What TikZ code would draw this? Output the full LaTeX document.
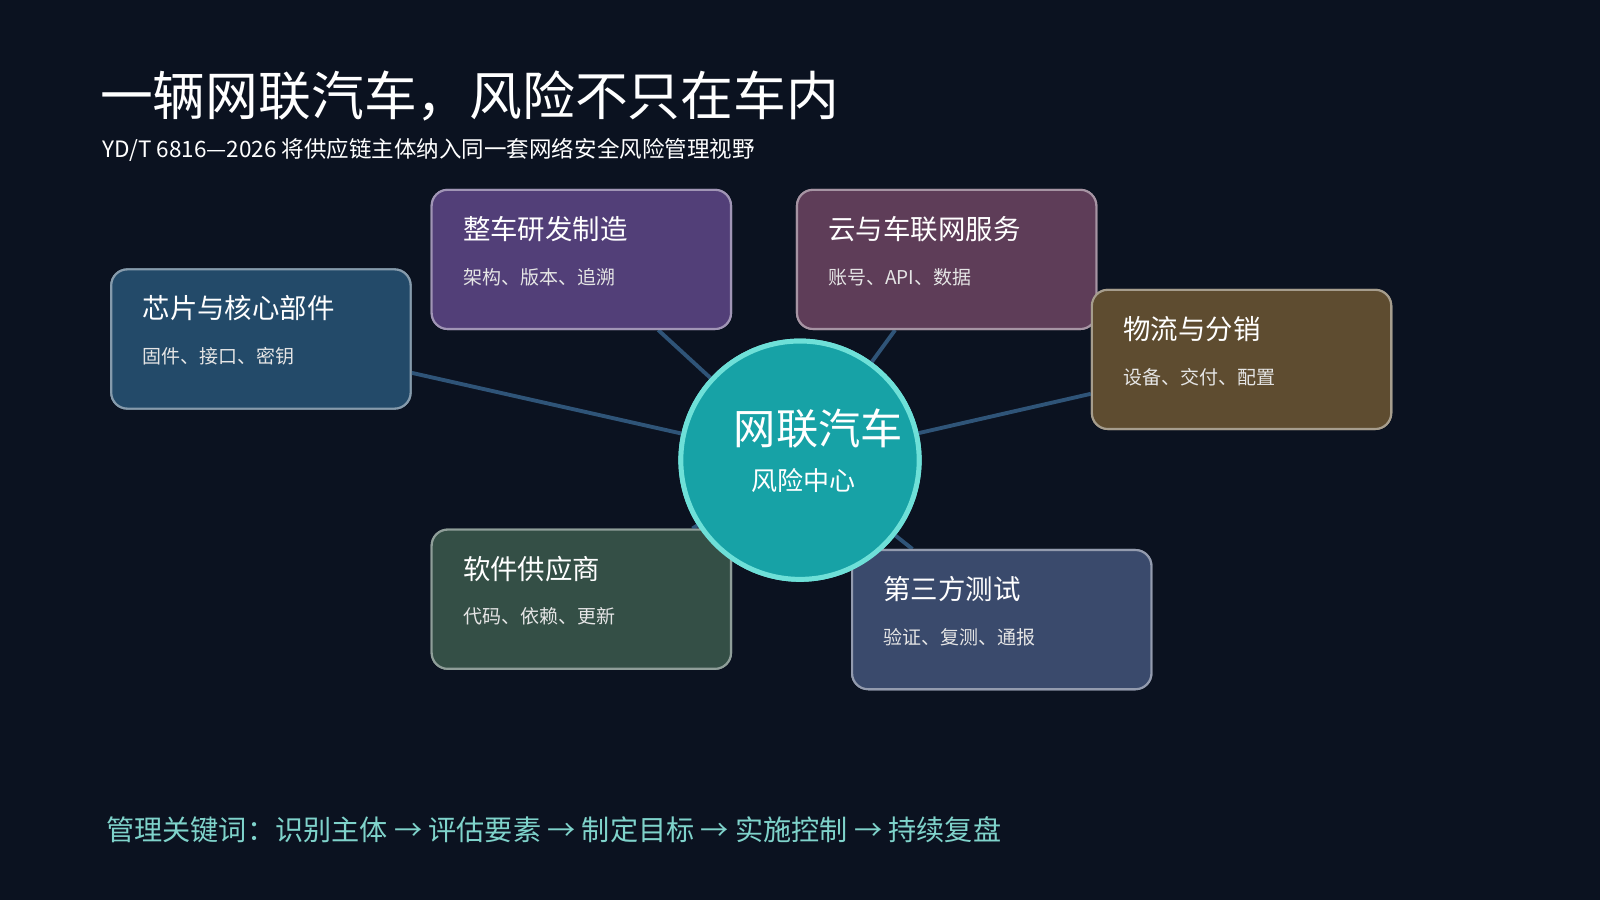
\documentclass[tikz,border=0pt]{standalone}
\usepackage{fontspec}
\setmainfont{Noto Sans CJK SC}
\usetikzlibrary{positioning}
\definecolor{bgcol}{HTML}{0B1220}
\definecolor{linkcol}{HTML}{2F5478}
\definecolor{hubcol}{HTML}{17A2A6}
\definecolor{hubedge}{HTML}{6EE0D8}
\definecolor{footcol}{HTML}{7FD3CB}
\definecolor{chipcol}{HTML}{234A69}
\definecolor{oemcol}{HTML}{523F78}
\definecolor{cloudcol}{HTML}{5E3D58}
\definecolor{logicol}{HTML}{5E4C30}
\definecolor{softcol}{HTML}{344F46}
\definecolor{testcol}{HTML}{3A4A6C}
\tikzset{
  party/.style={draw=#1!55!white, fill=#1, rounded corners=0.16cm, line width=0.6pt,
    minimum width=2.99cm, minimum height=1.39cm, anchor=north west},
  ptitle/.style={anchor=west, text=white, font=\fontsize{7.8pt}{9pt}\selectfont},
  psub/.style={anchor=west, text=white!80!gray, font=\fontsize{5.4pt}{6pt}\selectfont},
  link/.style={linkcol, line width=1.1pt}
}
\begin{document}
\begin{tikzpicture}[x=0.0102cm, y=-0.0102cm]
  \fill[bgcol] (0,0) rectangle (1568,882);
  \useasboundingbox (0,0) rectangle (1568,882);
  % title
  \node[anchor=west, text=white, font=\fontsize{15pt}{17pt}\selectfont] (title) at (86,94) {一辆网联汽车，风险不只在车内};
  \node[anchor=west, text=white, font=\fontsize{6.4pt}{8pt}\selectfont] (subtitle) at (88,147) {YD/T 6816—2026 将供应链主体纳入同一套网络安全风险管理视野};
  % hub
  \node[circle, fill=hubcol, draw=hubedge, line width=1.4pt, minimum size=2.38cm] (hub) at (784,451) {};
  % parties
  \node[party=chipcol] (chip) at (108,263) {};
  \node[party=oemcol] (oem) at (422,185) {};
  \node[party=cloudcol] (cloud) at (780,185) {};
  \node[party=logicol] (logi) at (1069,283) {};
  \node[party=softcol] (soft) at (422,518) {};
  \node[party=testcol] (test) at (834,538) {};
  % links
  \begin{scope}[on background layer/.style={}]
  \end{scope}
  \foreach \p in {chip,oem,cloud,logi,soft,test}
    \draw[link] (hub) -- (\p);
  % redraw on top
  \node[party=chipcol] at (108,263) {};
  \node[party=oemcol] at (422,185) {};
  \node[party=cloudcol] at (780,185) {};
  \node[party=logicol] at (1069,283) {};
  \node[party=softcol] at (422,518) {};
  \node[party=testcol] at (834,538) {};
  \node[circle, fill=hubcol, draw=hubedge, line width=1.4pt, minimum size=2.38cm] at (784,451) {};
  \node[text=white, font=\fontsize{12pt}{14pt}\selectfont] (hubtitle) at (802,420) {网联汽车};
  \node[text=white, font=\fontsize{7.4pt}{9pt}\selectfont] (hubsub) at (787,471) {风险中心};
  % labels
  \foreach \p/\t/\s in {chip/芯片与核心部件/固件、接口、密钥, oem/整车研发制造/架构、版本、追溯,
      cloud/云与车联网服务/账号、API、数据, logi/物流与分销/设备、交付、配置,
      soft/软件供应商/代码、依赖、更新, test/第三方测试/验证、复测、通报} {
    \node[ptitle] at ([xshift=0.2cm, yshift=-0.4cm]\p.north west) {\t};
    \node[psub] at ([xshift=0.2cm, yshift=-0.88cm]\p.north west) {\s};
  }
  % footer
  \node[anchor=west, text=footcol, font=\fontsize{8pt}{10pt}\selectfont] (footer) at (92,813) {管理关键词：识别主体 → 评估要素 → 制定目标 → 实施控制 → 持续复盘};
\end{tikzpicture}
\end{document}
